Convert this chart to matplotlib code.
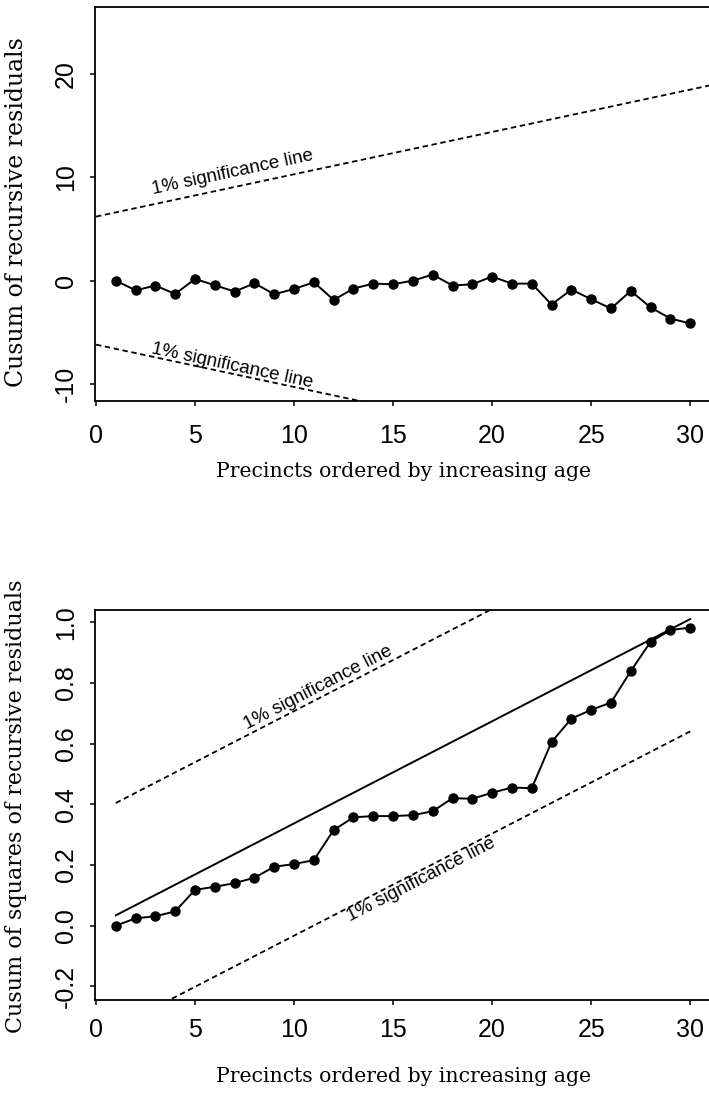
"""
Cusum and cusum-of-squares stability plots for precincts ordered by age.
"""
import numpy as np
import matplotlib
matplotlib.use('Agg')
import matplotlib.pyplot as plt

plt.rcParams['axes.unicode_minus'] = False

# Precinct index (ordered by increasing age)
precincts = np.arange(1, 31)

# Cusum of recursive residuals
cusum = [0.0, -0.94, -0.48, -1.29, 0.16, -0.45, -1.06, -0.26, -1.32, -0.81,
         -0.16, -1.87, -0.77, -0.29, -0.35, 0.0, 0.58, -0.48, -0.35, 0.39,
         -0.29, -0.29, -2.32, -0.87, -1.80, -2.70, -1.00, -2.60, -3.67, -4.15]

# Cusum of squares of recursive residuals
cusum_sq = [0.0, 0.024, 0.031, 0.047, 0.118, 0.128, 0.140, 0.158, 0.194, 0.203,
            0.216, 0.315, 0.357, 0.361, 0.361, 0.364, 0.377, 0.420, 0.418, 0.438,
            0.455, 0.453, 0.605, 0.682, 0.711, 0.735, 0.839, 0.935, 0.974, 0.982]

# 1% significance line for the cusum (upper; lower is the mirror image)
cusum_bound_x = [0, 31.1]
cusum_bound_y = [6.2, 18.95]

# expected line for cusum of squares and distance of its 1% bounds
cusumsq_mean_x = [1, 30]
cusumsq_mean_y = [0.034, 1.01]
cusumsq_offset = 0.37

x_ticks = [0, 5, 10, 15, 20, 25, 30]
cusum_ticks = [-10, 0, 10, 20]
cusumsq_ticks = [-0.2, 0.0, 0.2, 0.4, 0.6, 0.8, 1.0]

SANS = 'Liberation Sans'
SERIF = 'DejaVu Serif'
LABEL = '1% significance line'
XLABEL = 'Precincts ordered by increasing age'


def style_axes(ax, xpad):
    """Box, outward ticks and R-like fonts."""
    for side in ['left', 'bottom', 'top', 'right']:
        ax.spines[side].set_linewidth(1.3)
    ax.set_xticks(x_ticks)
    ax.tick_params(axis='both', direction='out', length=3.8, width=1.1,
                   labelsize=18)
    ax.tick_params(axis='x', pad=xpad)
    ax.tick_params(axis='y', pad=8.5, labelrotation=90)
    for lab in ax.get_xticklabels() + ax.get_yticklabels():
        lab.set_fontfamily(SANS)
    for lab in ax.get_yticklabels():
        lab.set_va('center')


def sig_label(ax, x, y, slope):
    """Write the significance label along a line of the given data slope."""
    angle = np.degrees(np.arctan(slope))
    ax.text(x, y, LABEL, fontsize=13.5, family=SANS, rotation=angle,
            rotation_mode='anchor', ha='center', va='center',
            transform_rotates_text=True)


fig = plt.figure(figsize=(7.09, 10.93), dpi=100)
W, H = 709.0, 1093.0
dash = (3.0, 2.0)

# Top panel: cusum of recursive residuals
ax1 = fig.add_axes([95 / W, 1 - 401 / H, 617 / W, 394 / H])
ax1.set_xlim(-0.05, 31.1)
ax1.set_ylim(-11.66, 26.5)
ax1.plot(cusum_bound_x, cusum_bound_y, color='black', lw=1.3, dashes=dash)
ax1.plot(cusum_bound_x, [-v for v in cusum_bound_y], color='black', lw=1.3,
         dashes=dash)
ax1.plot(precincts, cusum, color='black', lw=1.4, marker='o', markersize=6.5)
slope1 = (cusum_bound_y[1] - cusum_bound_y[0]) / (cusum_bound_x[1] - cusum_bound_x[0])
sig_label(ax1, 6.9, 10.5, slope1)
sig_label(ax1, 6.9, -8.3, -slope1)
ax1.set_yticks(cusum_ticks)
style_axes(ax1, xpad=13)
ax1.set_xlabel(XLABEL, family=SERIF, fontsize=14.7, va='center')
ax1.xaxis.set_label_coords(0.5, -0.180)
ax1.set_ylabel('Cusum of recursive residuals', family=SERIF, fontsize=17,
               va='center')
ax1.yaxis.set_label_coords(-0.128, 0.48)

# Bottom panel: cusum of squares of recursive residuals
ax2 = fig.add_axes([95 / W, 1 - 1000 / H, 617 / W, 390 / H])
ax2.set_xlim(-0.05, 31.1)
ax2.set_ylim(-0.245, 1.04)
mean_y = np.array(cusumsq_mean_y)
ax2.plot(cusumsq_mean_x, mean_y + cusumsq_offset, color='black', lw=1.3,
         dashes=dash)
ax2.plot(cusumsq_mean_x, mean_y - cusumsq_offset, color='black', lw=1.3,
         dashes=dash)
ax2.plot(cusumsq_mean_x, mean_y, color='black', lw=1.4)
ax2.plot(precincts, cusum_sq, color='black', lw=1.4, marker='o', markersize=6.5)
slope2 = (mean_y[1] - mean_y[0]) / (cusumsq_mean_x[1] - cusumsq_mean_x[0])
sig_label(ax2, 11.2, 0.783, slope2)
sig_label(ax2, 16.4, 0.151, slope2)
ax2.set_yticks(cusumsq_ticks)
ax2.set_yticklabels([f'{v:.1f}' for v in cusumsq_ticks])
style_axes(ax2, xpad=9.5)
ax2.set_xlabel(XLABEL, family=SERIF, fontsize=14.7, va='center')
ax2.xaxis.set_label_coords(0.5, -0.197)
ax2.set_ylabel('Cusum of squares of recursive residuals', family=SERIF,
               fontsize=16, va='center')
ax2.yaxis.set_label_coords(-0.128, 0.497)

fig.savefig('out.png', dpi=100)
plt.close(fig)
